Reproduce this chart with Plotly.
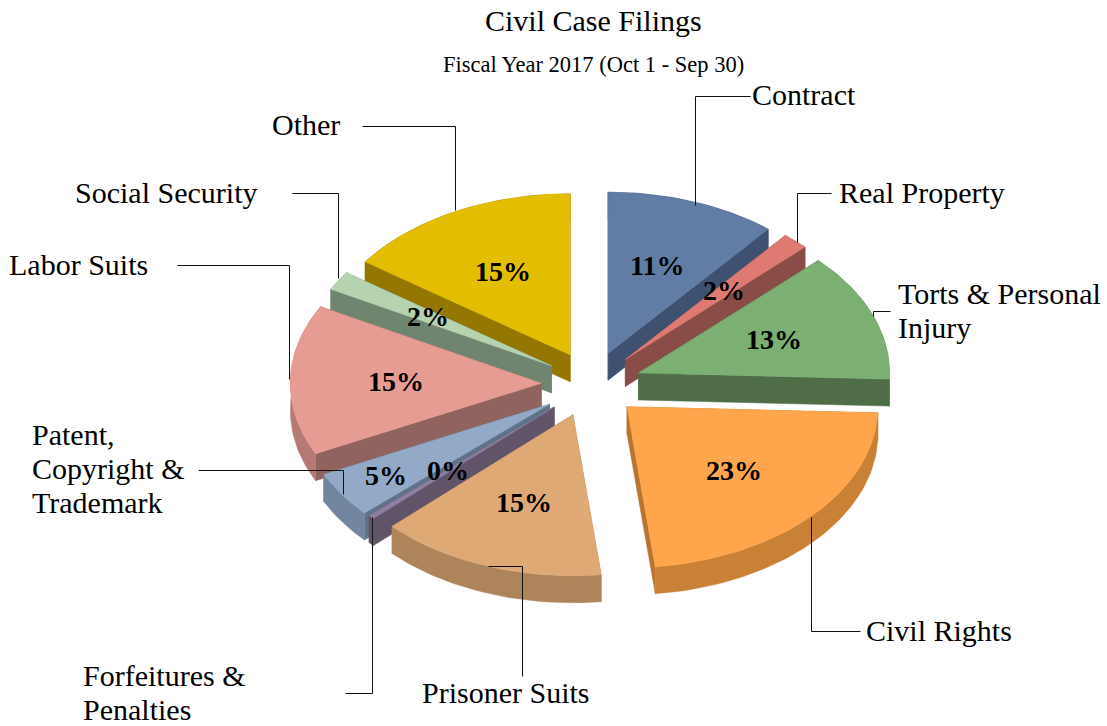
import numpy as np
import plotly.graph_objects as go

# --- data ---
categories = ["Contract", "Real Property", "Torts & Personal Injury", "Civil Rights", "Prisoner Suits",
              "Forfeitures & Penalties", "Patent, Copyright & Trademark", "Labor Suits", "Social Security", "Other"]
shares = [11.0, 1.7, 12.9, 22.6, 14.6, 0.4, 4.6, 15.1, 1.9, 15.2]

# --- styling ---
top_colors = ["#617da6", "#df7a73", "#7bb072", "#ffa64d", "#dfa976", "#8f7fa3", "#92a9c7", "#e79c93", "#b5d3ae", "#e3bd00"]
cut_colors = ["#3e5170", "#8a4c47", "#4f6e48", "#b87530", "#ae855b", "#625468", "#5f7388", "#90635e", "#6f8570", "#937700"]
rim_colors = ["#3e5170", "#8a4c47", "#4f6e48", "#c98136", "#ae855b", "#625468", "#72859f", "#b57a74", "#6f8570", "#937700"]
label_text = ["Contract", "Real Property", "Torts & Personal<br>Injury", "Civil Rights", "Prisoner Suits",
              "Forfeitures &<br>Penalties", "Patent,<br>Copyright &<br>Trademark", "Labor Suits", "Social Security", "Other"]
label_pos = [(750, 94), (837, 192), (896, 310), (864, 630), (420, 692), (81, 692), (30, 468), (7, 264), (73, 192), (270, 124)]
label_radius = [0.58, 0.58, 0.58, 0.58, 0.58, 0.58, 0.79, 0.58, 0.58, 0.58]
# drawing nudge of each exploded slice (perspective of the original 3-D view)
nudge_x = [0, 1, 2, 0, -3, -3, -3, -3, 0, 0]
nudge_y = [0, 0, 2, 4, 4, 4, 5, 2, 0, 0]
leaders = [
    [(750, 96), (695, 96), (695, 205)],
    [(831, 193), (797, 193), (797, 242)],
    [(890, 311), (873, 311), (873, 316)],
    [(860, 631), (811, 631), (811, 517)],
    [(522, 676), (522, 566), (488, 566)],
    [(345, 693), (372, 693), (372, 517)],
    [(198, 470), (343, 470), (343, 494)],
    [(177, 265), (289, 265), (289, 379)],
    [(292, 193), (338, 193), (338, 278)],
    [(362, 126), (455, 126), (455, 210)],
]
CX, CY, RX, RY, PULL, DEPTH = 592, 382, 251, 161, 0.19, 27
LINE_STEP = 34
SERIF = "Liberation Serif"

fractions = np.array(shares) / sum(shares)
ends = np.cumsum(fractions) * 2 * np.pi
starts = ends - fractions * 2 * np.pi


def ell(theta):
    return RX * np.sin(theta), -RY * np.cos(theta)


def poly(x, y, color, name):
    return go.Scatter(x=x, y=y, mode="lines", fill="toself", fillcolor=color,
                      line=dict(color=color, width=0.5), name=name, text=name,
                      hoverinfo="text", showlegend=False)


mids = (starts + ends) / 2
apex_x = CX + PULL * RX * np.sin(mids) + np.array(nudge_x)
apex_y = CY - PULL * RY * np.cos(mids) + np.array(nudge_y)

traces = []
for i in np.argsort(apex_y):
    t = np.linspace(starts[i], ends[i], max(6, int(fractions[i] * 240)))
    ex, ey = ell(t)
    rx, ry = apex_x[i] + ex, apex_y[i] + ey
    name = f"{categories[i]}: {shares[i]}%"
    for k in (0, -1):
        traces.append(poly([apex_x[i], rx[k], rx[k], apex_x[i], apex_x[i]],
                           [apex_y[i], ry[k], ry[k] + DEPTH, apex_y[i] + DEPTH, apex_y[i]],
                           cut_colors[i], name))
    traces.append(poly(np.r_[rx, rx[::-1], rx[0]], np.r_[ry, ry[::-1] + DEPTH, ry[0]], rim_colors[i], name))
    traces.append(poly(np.r_[apex_x[i], rx, apex_x[i]], np.r_[apex_y[i], ry, apex_y[i]], top_colors[i], name))

fig = go.Figure(traces)

for path in leaders:
    xs, ys = zip(*path)
    fig.add_trace(go.Scatter(x=[v + 0.5 for v in xs], y=[v + 0.5 for v in ys], mode="lines",
                             line=dict(color="#111111", width=1), hoverinfo="skip", showlegend=False))

annotations = []
for txt, (x, y) in zip(label_text, label_pos):
    lines = txt.split("<br>")
    for j, line in enumerate(lines):
        annotations.append(dict(x=x, y=y + (j - (len(lines) - 1) / 2) * LINE_STEP, text=line, xref="x", yref="y",
                                xanchor="left", yanchor="middle", align="left", showarrow=False,
                                font=dict(family=SERIF, size=30, color="black")))
for i in range(len(shares)):
    dx, dy = ell(mids[i])
    annotations.append(dict(x=apex_x[i] + label_radius[i] * dx, y=apex_y[i] + label_radius[i] * dy,
                            text=f"<b>{round(shares[i])}%</b>", xref="x", yref="y", showarrow=False,
                            font=dict(family=SERIF, size=28, color="black")))
annotations.append(dict(x=593, y=20, text="Civil Case Filings", xref="x", yref="y", showarrow=False,
                        font=dict(family=SERIF, size=30, color="black")))
annotations.append(dict(x=593, y=64, text="Fiscal Year 2017 (Oct 1 - Sep 30)", xref="x", yref="y", showarrow=False,
                        font=dict(family=SERIF, size=22.5, color="black")))

fig.update_layout(
    width=1107, height=726, margin=dict(l=0, r=0, t=0, b=0),
    paper_bgcolor="white", plot_bgcolor="white",
    xaxis=dict(range=[0, 1107], visible=False, fixedrange=True),
    yaxis=dict(range=[726, 0], visible=False, fixedrange=True),
    annotations=annotations,
)
fig.write_html("out.html", config=dict(displayModeBar=False),
               post_script="document.body.style.margin='0';document.body.style.overflow='hidden';")
